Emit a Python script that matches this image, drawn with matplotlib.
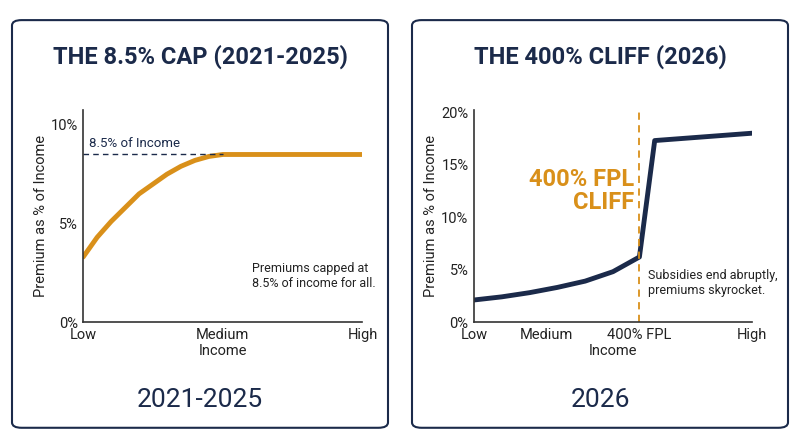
import matplotlib
matplotlib.use("Agg")
import matplotlib.pyplot as plt
from matplotlib.patches import FancyBboxPatch

plt.rcParams['font.family'] = ['Roboto', 'DejaVu Sans']

NAVY = '#1b2a4a'
ORANGE = '#d9901a'

# Left panel data (income position: 0=Low, 1=Medium, 2=High)
cap_x = [0, 0.1, 0.2, 0.3, 0.4, 0.5, 0.6, 0.7, 0.8, 0.9, 1.0, 1.5, 2.0]
cap_y = [3.3, 4.3, 5.1, 5.8, 6.5, 7.0, 7.5, 7.9, 8.2, 8.4, 8.5, 8.5, 8.5]
cap_ticks = [0, 1, 2]
cap_ticklabels = ['Low', 'Medium', 'High']
cap_level = 8.5

# Right panel data (income position 0-100)
cliff_x = [0, 10, 20, 30, 40, 50, 59.5, 65, 100]
cliff_y = [2.1, 2.4, 2.8, 3.3, 3.9, 4.8, 6.2, 17.3, 18.0]
cliff_ticks = [0, 26, 59.5, 100]
cliff_ticklabels = ['Low', 'Medium', '400% FPL', 'High']
cliff_at = 59.5

fig = plt.figure(figsize=(8, 4.47), dpi=100)
fig.patch.set_facecolor('white')

for x0 in (0.015, 0.515):
    fig.patches.append(FancyBboxPatch((x0, 0.043), 0.47, 0.912, boxstyle="round,pad=0,rounding_size=0.012",
                                      transform=fig.transFigure, facecolor='white', edgecolor=NAVY,
                                      linewidth=1.5, zorder=-5))

def style(ax):
    ax.set_facecolor('none')
    ax.set_zorder(2)
    for s in ('top', 'right'):
        ax.spines[s].set_visible(False)
    for s in ('left', 'bottom'):
        ax.spines[s].set_color('#333333')
        ax.spines[s].set_linewidth(1.2)
    ax.tick_params(length=0, labelsize=10.5, colors='#222222', pad=4)
    ax.set_ylabel('Premium as % of Income', fontsize=10.5, color='#222222', labelpad=2)
    ax.set_xlabel('Income', fontsize=10.5, color='#222222', labelpad=2)

ax1 = fig.add_axes([0.104, 0.2796, 0.349, 0.474])
ax1.plot(cap_x, cap_y, color=ORANGE, lw=3.5, solid_capstyle='round')
ax1.plot([0, 1.0], [cap_level, cap_level], color=NAVY, lw=1, ls=(0, (4, 3)))
ax1.text(0.04, cap_level + 0.25, '8.5% of Income', fontsize=9.5, color=NAVY, va='bottom')
ax1.text(1.21, 1.6, 'Premiums capped at\n8.5% of income for all.', fontsize=9, color='#222222', ha='left', va='bottom', linespacing=1.2)
ax1.set_xlim(0, 2)
ax1.set_ylim(0, 10.75)
ax1.set_yticks([0, 5, 10])
ax1.set_yticklabels(['0%', '5%', '10%'])
ax1.set_xticks(cap_ticks)
ax1.set_xticklabels(cap_ticklabels)
style(ax1)

ax2 = fig.add_axes([0.5925, 0.2796, 0.3475, 0.474])
ax2.plot(cliff_x, cliff_y, color=NAVY, lw=3.5, solid_capstyle='round')
ax2.axvline(cliff_at, color=ORANGE, lw=1.3, ls=(0, (4, 3)))
ax2.text(cliff_at - 2, 12.5, '400% FPL\nCLIFF', fontsize=17, fontweight='bold', color=ORANGE, ha='right', va='center', linespacing=1.0)
ax2.text(cliff_at + 3, 2.4, 'Subsidies end abruptly,\npremiums skyrocket.', fontsize=9, color='#222222', ha='left', va='bottom', linespacing=1.2)
ax2.set_xlim(0, 100)
ax2.set_ylim(0, 20.2)
ax2.set_yticks([0, 5, 10, 15, 20])
ax2.set_yticklabels(['0%', '5%', '10%', '15%', '20%'])
ax2.set_xticks(cliff_ticks)
ax2.set_xticklabels(cliff_ticklabels)
style(ax2)

fig.text(0.25, 0.872, 'THE 8.5% CAP (2021-2025)', fontsize=17, fontweight='bold', color=NAVY, ha='center', va='center')
fig.text(0.75, 0.872, 'THE 400% CLIFF (2026)', fontsize=17, fontweight='bold', color=NAVY, ha='center', va='center')
fig.text(0.25, 0.105, '2021-2025', fontsize=19, color=NAVY, ha='center', va='center')
fig.text(0.75, 0.105, '2026', fontsize=19, color=NAVY, ha='center', va='center')

fig.savefig('out.png', dpi=100, facecolor='white')
